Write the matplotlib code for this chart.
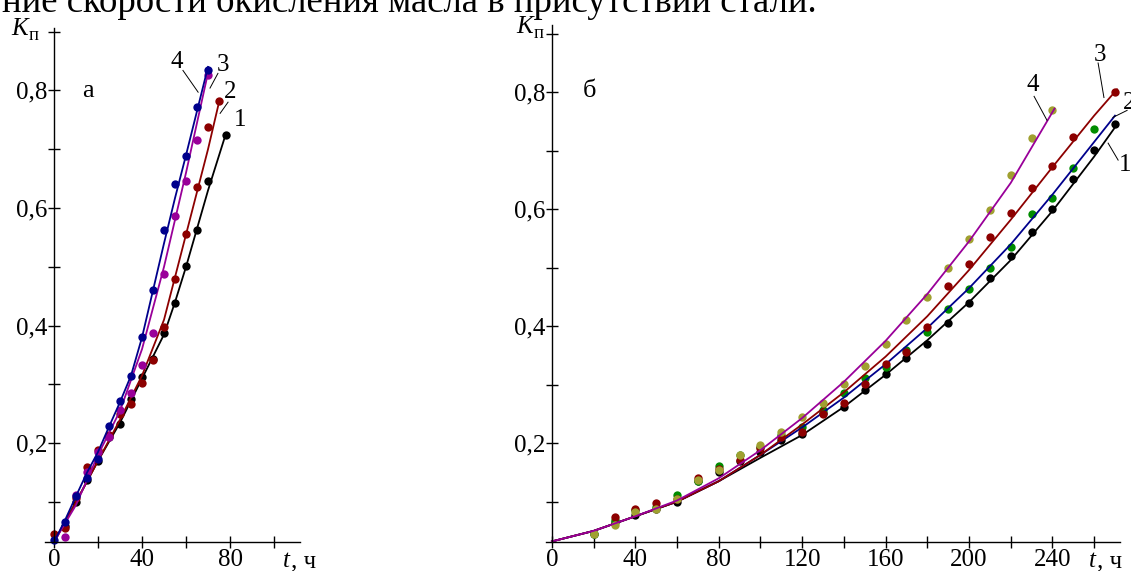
import numpy as np
import matplotlib
matplotlib.use("Agg")
import matplotlib.pyplot as plt

plt.rcParams['font.family'] = ['Liberation Serif', 'DejaVu Serif']

# --- data, panel a ---
ta_1 = [5, 10, 15, 20, 25, 30, 35, 40, 45, 50, 55, 60, 65, 70, 78]
ka_1 = [0.06, 0.1, 0.137, 0.17, 0.21, 0.232, 0.275, 0.313, 0.344, 0.387, 0.438, 0.501, 0.563, 0.646, 0.725]
ta_2 = [0, 5, 10, 15, 20, 25, 30, 35, 40, 45, 50, 55, 60, 65, 70, 75]
ka_2 = [0.045, 0.055, 0.106, 0.16, 0.188, 0.214, 0.25, 0.266, 0.303, 0.341, 0.397, 0.48, 0.555, 0.636, 0.737, 0.782]
ta_3 = [5, 10, 15, 20, 25, 30, 35, 40, 45, 50, 55, 60, 65, 70]
ka_3 = [0.04, 0.112, 0.151, 0.185, 0.21, 0.256, 0.285, 0.333, 0.387, 0.487, 0.586, 0.646, 0.715, 0.826]
ta_4 = [0, 5, 10, 15, 20, 25, 30, 35, 40, 45, 50, 55, 60, 65, 70]
ka_4 = [0.035, 0.066, 0.11, 0.14, 0.174, 0.229, 0.272, 0.314, 0.38, 0.46, 0.563, 0.64, 0.688, 0.772, 0.834]

# fitted curves, panel a
la_1_t = [0, 10, 20, 30, 40, 50, 55, 60, 70, 78]
la_1_k = [0.032, 0.1, 0.17, 0.235, 0.31, 0.385, 0.44, 0.5, 0.63, 0.725]
la_2_t = [0, 10, 20, 30, 40, 50, 60, 70, 75]
la_2_k = [0.032, 0.1, 0.17, 0.24, 0.315, 0.41, 0.555, 0.7, 0.78]
la_3_t = [0, 10, 20, 30, 40, 50, 60, 70]
la_3_k = [0.032, 0.095, 0.18, 0.255, 0.36, 0.5, 0.66, 0.83]
la_4_t = [0, 5, 10, 15, 20, 25, 30, 35, 40, 45, 50, 55, 60, 65, 70]
la_4_k = [0.032, 0.069, 0.11, 0.15, 0.185, 0.228, 0.27, 0.315, 0.38, 0.46, 0.54, 0.617, 0.69, 0.765, 0.84]

# --- data, panel b ---
tb_1 = list(range(20, 280, 10))
kb_1 = [0.045, 0.065, 0.078, 0.088, 0.1, 0.135, 0.15, 0.17, 0.185, 0.205, 0.215, 0.251, 0.262,
        0.291, 0.319, 0.345, 0.369, 0.405, 0.44, 0.482, 0.52, 0.561, 0.6, 0.652, 0.701, 0.745]
tb_2 = list(range(20, 270, 10))
kb_2 = [0.045, 0.068, 0.085, 0.09, 0.111, 0.135, 0.161, 0.18, 0.194, 0.214, 0.228, 0.256, 0.285,
        0.311, 0.33, 0.36, 0.39, 0.429, 0.464, 0.5, 0.535, 0.591, 0.619, 0.67, 0.737]
tb_3 = [30, 40, 50, 60, 70, 80, 90, 100, 110, 120, 130, 140, 150, 160, 170, 180, 190, 200,
        210, 220, 230, 240, 250, 270]
kb_3 = [0.074, 0.088, 0.097, 0.105, 0.14, 0.155, 0.171, 0.191, 0.21, 0.219, 0.25, 0.269, 0.302,
        0.336, 0.356, 0.399, 0.468, 0.506, 0.553, 0.594, 0.637, 0.674, 0.724, 0.8]
tb_4 = list(range(20, 250, 10))
kb_4 = [0.045, 0.06, 0.083, 0.088, 0.105, 0.137, 0.154, 0.18, 0.197, 0.219, 0.245, 0.268, 0.302,
        0.332, 0.369, 0.411, 0.45, 0.5, 0.549, 0.598, 0.659, 0.722, 0.77]

# fitted curves, panel b
lb_1_t = [0, 20, 40, 60, 80, 100, 120, 140, 160, 180, 200, 220, 240, 260, 270]
lb_1_k = [0.032, 0.05, 0.075, 0.1, 0.135, 0.175, 0.214, 0.262, 0.317, 0.376, 0.441, 0.513, 0.597, 0.69, 0.74]
lb_2_t = [0, 20, 40, 60, 80, 100, 120, 140, 160, 180, 200, 220, 240, 260, 270]
lb_2_k = [0.032, 0.05, 0.075, 0.1, 0.135, 0.18, 0.227, 0.278, 0.335, 0.397, 0.465, 0.54, 0.625, 0.715, 0.76]
lb_3_t = [0, 20, 40, 60, 80, 100, 120, 140, 160, 180, 200, 220, 240, 260, 271]
lb_3_k = [0.032, 0.05, 0.075, 0.1, 0.135, 0.18, 0.232, 0.287, 0.348, 0.417, 0.496, 0.582, 0.672, 0.76, 0.805]
lb_4_t = [0, 20, 40, 60, 80, 100, 120, 140, 160, 180, 200, 220, 241]
lb_4_k = [0.032, 0.05, 0.075, 0.102, 0.14, 0.188, 0.243, 0.305, 0.375, 0.455, 0.545, 0.645, 0.772]

# curve numbers: label position, leader start, leader end
num_a = [("4", (55.9, 0.848), (58.6, 0.834), (65.5, 0.797)),
         ("3", (76.8, 0.843), (74.5, 0.829), (70.9, 0.804)),
         ("2", (80.0, 0.797), (79.1, 0.780), (75.5, 0.761)),
         ("1", (84.5, 0.749), None, None)]
num_b = [("4", (230.7, 0.812), (231.2, 0.793), (237.4, 0.752)),
         ("3", (262.8, 0.863), (261.9, 0.850), (264.7, 0.791)),
         ("2", (276.6, 0.781), (275.8, 0.769), (269.0, 0.757)),
         ("1", (274.8, 0.675), (271.5, 0.684), (266.7, 0.713))]

BLACK = "#000000"
RED = "#8c0000"
PURPLE = "#990099"
NAVY = "#00008c"
GREEN = "#008c00"
OLIVE = "#a0a030"
FS = 18

W, H = 1131, 571
fig = plt.figure(figsize=(W / 100, H / 100), dpi=100)
fig.patch.set_facecolor("white")

def px(x, y):
    # figure fraction from pixel position (top-down)
    return x / W, 1 - y / H

def setup(ax, xlim, ylim, xmajor, xminor):
    ax.set_xlim(*xlim)
    ax.set_ylim(*ylim)
    for s in ["top", "right"]:
        ax.spines[s].set_visible(False)
    ax.spines["left"].set_position(("data", 0))
    ax.spines["left"].set_linewidth(1.0)
    ax.spines["bottom"].set_linewidth(1.0)
    ax.set_xticks(xmajor, labels=[str(v) for v in xmajor])
    ax.set_xticks(xminor, minor=True)
    ax.set_yticks([0.2, 0.4, 0.6, 0.8], labels=["0,2", "0,4", "0,6", "0,8"])
    ax.set_yticks([0.1, 0.3, 0.5, 0.7, 0.9], minor=True)
    ax.tick_params(which="both", direction="inout", length=8, width=1.0, labelsize=FS)
    ax.tick_params(axis="y", which="both", pad=0.5)
    ax.tick_params(axis="x", which="both", pad=1.0)
    ax.patch.set_alpha(0)

def numbers(ax, items):
    for s, xyt, p0, p1 in items:
        ax.text(*xyt, s, fontsize=FS, ha="center", va="center")
        if p0 is not None:
            ax.plot([p0[0], p1[0]], [p0[1], p1[1]], color="black", lw=0.7, clip_on=False)

# panel a
axa = fig.add_axes([45.2 / W, 29 / H, 254.8 / W, 514.5 / H])
setup(axa, (-4, 111.8), (0.032, 0.907), [0, 40, 80], [20, 60, 100])
for lt, lk, t, k, c in [(la_1_t, la_1_k, ta_1, ka_1, BLACK), (la_2_t, la_2_k, ta_2, ka_2, RED),
                        (la_3_t, la_3_k, ta_3, ka_3, PURPLE), (la_4_t, la_4_k, ta_4, ka_4, NAVY)]:
    axa.plot(lt, lk, color=c, lw=1.3, clip_on=False)
    axa.plot(t, k, "o", color=c, ms=6, mec="none", clip_on=False)
numbers(axa, num_a)

# panel b
axb = fig.add_axes([545.7 / W, 29 / H, 574.3 / W, 517 / H])
setup(axb, (-3, 272.4), (0.031, 0.915), [0, 40, 80, 120, 160, 200, 240],
      [20, 60, 100, 140, 180, 220, 260])
for lt, lk, t, k, lc, mc in [(lb_1_t, lb_1_k, tb_1, kb_1, BLACK, BLACK),
                             (lb_2_t, lb_2_k, tb_2, kb_2, NAVY, GREEN),
                             (lb_3_t, lb_3_k, tb_3, kb_3, RED, RED),
                             (lb_4_t, lb_4_k, tb_4, kb_4, PURPLE, OLIVE)]:
    axb.plot(t, k, "o", color=mc, ms=6, mec="none", clip_on=False)
    axb.plot(lt, lk, color=lc, lw=1.3, clip_on=False)
numbers(axb, num_b)

# axis labels
for kx, ky, px_, py_ in [(11, 35, 29, 40), (516, 33, 534, 38)]:
    fig.text(*px(kx, ky), "K", fontsize=18, style="italic", va="baseline")
    fig.text(*px(px_, py_), "п", fontsize=13.5, va="baseline")
for tx in [283, 1089]:
    fig.text(*px(tx, 567), "t", fontsize=18, style="italic", va="baseline")
    fig.text(*px(tx + 8, 567), ", ч", fontsize=18, va="baseline")

fig.text(*px(82, 97), "а", fontsize=19, va="baseline")
fig.text(*px(583, 97), "б", fontsize=19, va="baseline")

# cut-off line of body text above the figure
fig.text(*px(2, 12), "ние скорости окисления масла в присутствии стали.", fontsize=26.5,
         va="baseline")

fig.savefig("out.png", dpi=100, facecolor="white")
